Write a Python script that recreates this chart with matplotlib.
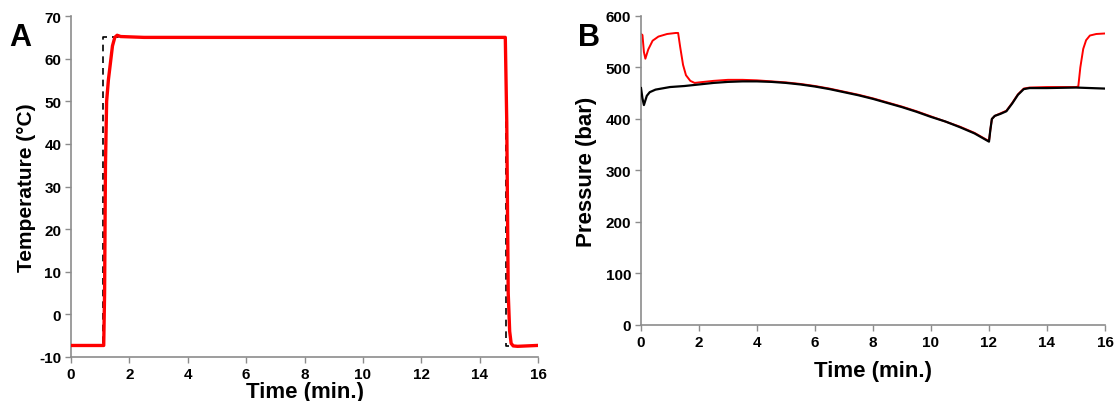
import matplotlib
matplotlib.use("Agg")
import matplotlib.pyplot as plt

# ---- Panel A data: temperature ----
temp_time = [0, 1.12, 1.15, 1.18, 1.22, 1.28, 1.35, 1.42, 1.5, 1.58, 1.7, 2.5, 14.88, 14.93,
             14.98, 15.03, 15.08, 15.15, 15.3, 15.95]
temp_vals = [-7.3, -7.3, 5, 35, 50, 55, 59, 63, 65, 65.5, 65.2, 65, 65, 45,
             5, -4, -6.8, -7.4, -7.5, -7.3]
set_time = [0, 1.1, 1.1, 14.9, 14.9, 15.0]
set_vals = [-7.5, -7.5, 65, 65, -7.5, -7.5]

# ---- Panel B data: pressure ----
black_time = [0, 0.05, 0.1, 0.2, 0.3, 0.5, 1.0, 1.5, 2.0, 2.5, 3.0, 3.5, 4.0, 4.5, 5.0,
              5.5, 6.0, 6.5, 7.0, 7.5, 8.0, 8.5, 9.0, 9.5, 10.0, 10.5, 11.0, 11.5, 12.0,
              12.05, 12.1, 12.2, 12.4, 12.6, 12.8, 13.0, 13.2, 13.4, 14.0, 15.0, 16.0]
black_vals = [460, 440, 427, 445, 452, 457, 462, 464, 467, 470, 472, 473, 473, 472, 470,
              467, 463, 458, 452, 446, 439, 431, 423, 414, 404, 395, 384, 372, 356,
              380, 400, 406, 410, 415, 430, 447, 458, 460, 460, 461, 459]
red_time = [0, 0.05, 0.1, 0.15, 0.25, 0.4, 0.6, 0.9, 1.2, 1.28, 1.35, 1.45, 1.55, 1.7,
            1.85, 2.0, 2.5, 3.0, 3.5, 4.0, 4.5, 5.0, 5.5, 6.0, 6.5, 7.0, 7.5, 8.0, 8.5,
            9.0, 9.5, 10.0, 10.5, 11.0, 11.5, 12.0, 12.05, 12.1, 12.2, 12.4, 12.6, 12.8,
            13.0, 13.2, 13.4, 14.0, 15.0, 15.08, 15.15, 15.25, 15.35, 15.48, 15.7, 16.0]
red_vals = [565, 563, 530, 517, 535, 552, 560, 565, 567, 567, 540, 505, 485, 474,
            470, 471, 474, 476, 476, 475, 473, 471, 468, 464, 459, 453, 447, 440, 432,
            424, 415, 405, 395, 385, 373, 357, 380, 400, 406, 411, 416, 431, 448, 459,
            461, 462, 462, 463, 500, 536, 553, 562, 565, 566]

plt.rcParams['font.family'] = ['Liberation Sans', 'DejaVu Sans']
plt.rcParams['axes.unicode_minus'] = False
GRAY = '#8c8c8c'

fig = plt.figure(figsize=(11.15, 4.02), dpi=100)
axA = fig.add_axes([0.0637, 0.1095, 0.4188, 0.848])
axB = fig.add_axes([0.5749, 0.1891, 0.4161, 0.7687])


def style(ax):
    for s in ('top', 'right'):
        ax.spines[s].set_visible(False)
    for s in ('left', 'bottom'):
        ax.spines[s].set_color(GRAY)
        ax.spines[s].set_linewidth(1.2)
    ax.tick_params(colors=GRAY, width=1.0, length=4, direction='out', pad=3,
                   labelsize=11)
    for lab in ax.get_xticklabels() + ax.get_yticklabels():
        lab.set_color('black')
        lab.set_fontweight('bold')


# Panel A
axA.plot(set_time, set_vals, color='black', lw=1.2, ls=(0, (4, 3)), zorder=2)
axA.plot(temp_time, temp_vals, color='#ff0000', lw=2.4, zorder=3)
axA.set_xlim(0, 16)
axA.set_ylim(-10, 70)
axA.set_xticks(range(0, 17, 2))
axA.set_yticks(range(-10, 71, 10))
style(axA)
axA.set_xlabel('Time (min.)', fontsize=16, fontweight='bold', labelpad=0)
axA.set_ylabel('Temperature (°C)', fontsize=15, fontweight='bold', labelpad=2)
fig.text(0.008, 0.885, 'A', fontsize=22, fontweight='bold')

# Panel B
axB.plot(red_time, red_vals, color='#ff0000', lw=1.4, zorder=2)
axB.plot(black_time, black_vals, color='black', lw=1.6, zorder=3)
axB.set_xlim(0, 16)
axB.set_ylim(0, 600)
axB.set_xticks(range(0, 17, 2))
axB.set_yticks(range(0, 601, 100))
style(axB)
axB.set_xlabel('Time (min.)', fontsize=16, fontweight='bold', labelpad=8)
axB.set_ylabel('Pressure (bar)', fontsize=16, fontweight='bold', labelpad=6)
fig.text(0.518, 0.885, 'B', fontsize=22, fontweight='bold')

fig.savefig('out.png', dpi=100)
